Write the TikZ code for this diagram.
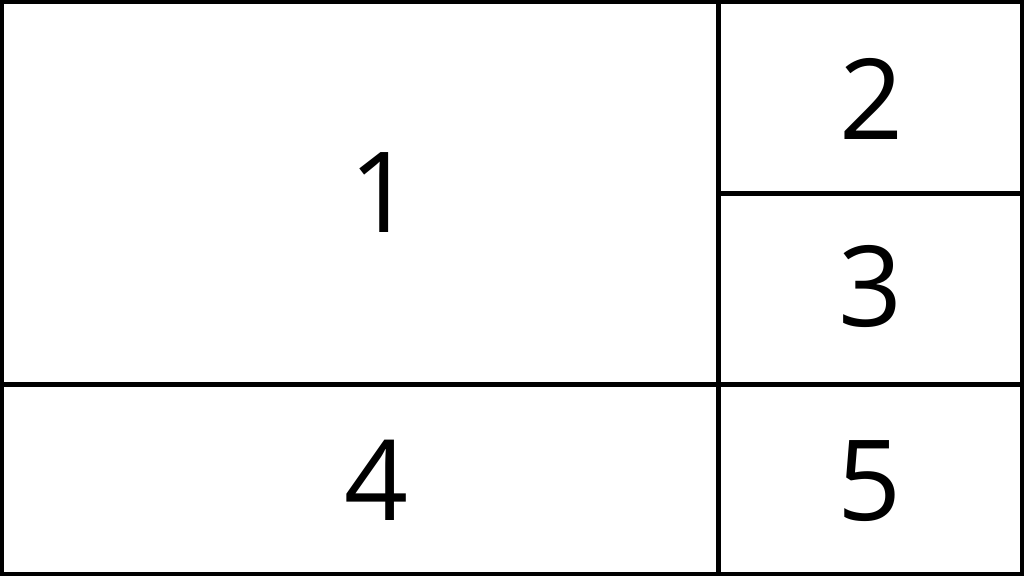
\documentclass[tikz,border=0pt]{standalone}
\usepackage{fontspec}
\setmainfont{Open Sans}
\begin{document}
\begin{tikzpicture}[x=1pt,y=-1pt,
  grid/.style={line width=4.5pt, draw=black},
  num/.style={font=\fontsize{112}{112}\selectfont, anchor=base, inner sep=0pt}]
\useasboundingbox (0,0) rectangle (1024,576);
\fill[white] (0,0) rectangle (1024,576);
\coordinate (tl) at (2,2);
\coordinate (br) at (1022,574);
\coordinate (vtop) at (718.5,2);
\coordinate (vbot) at (718.5,574);
\coordinate (hl) at (2,384.5);
\coordinate (hr) at (1022,384.5);
\coordinate (sl) at (718.5,193.5);
\coordinate (sr) at (1022,193.5);
\draw[grid] (tl) rectangle (br);
\draw[grid] (vtop) -- (vbot);
\draw[grid] (hl) -- (hr);
\draw[grid] (sl) -- (sr);
\node[num] (n1) at (382,232) {1};
\node[num] (n2) at (872,139) {2};
\node[num] (n3) at (871,326) {3};
\node[num] (n4) at (377,520) {4};
\node[num] (n5) at (870,520) {5};
\end{tikzpicture}
\end{document}
